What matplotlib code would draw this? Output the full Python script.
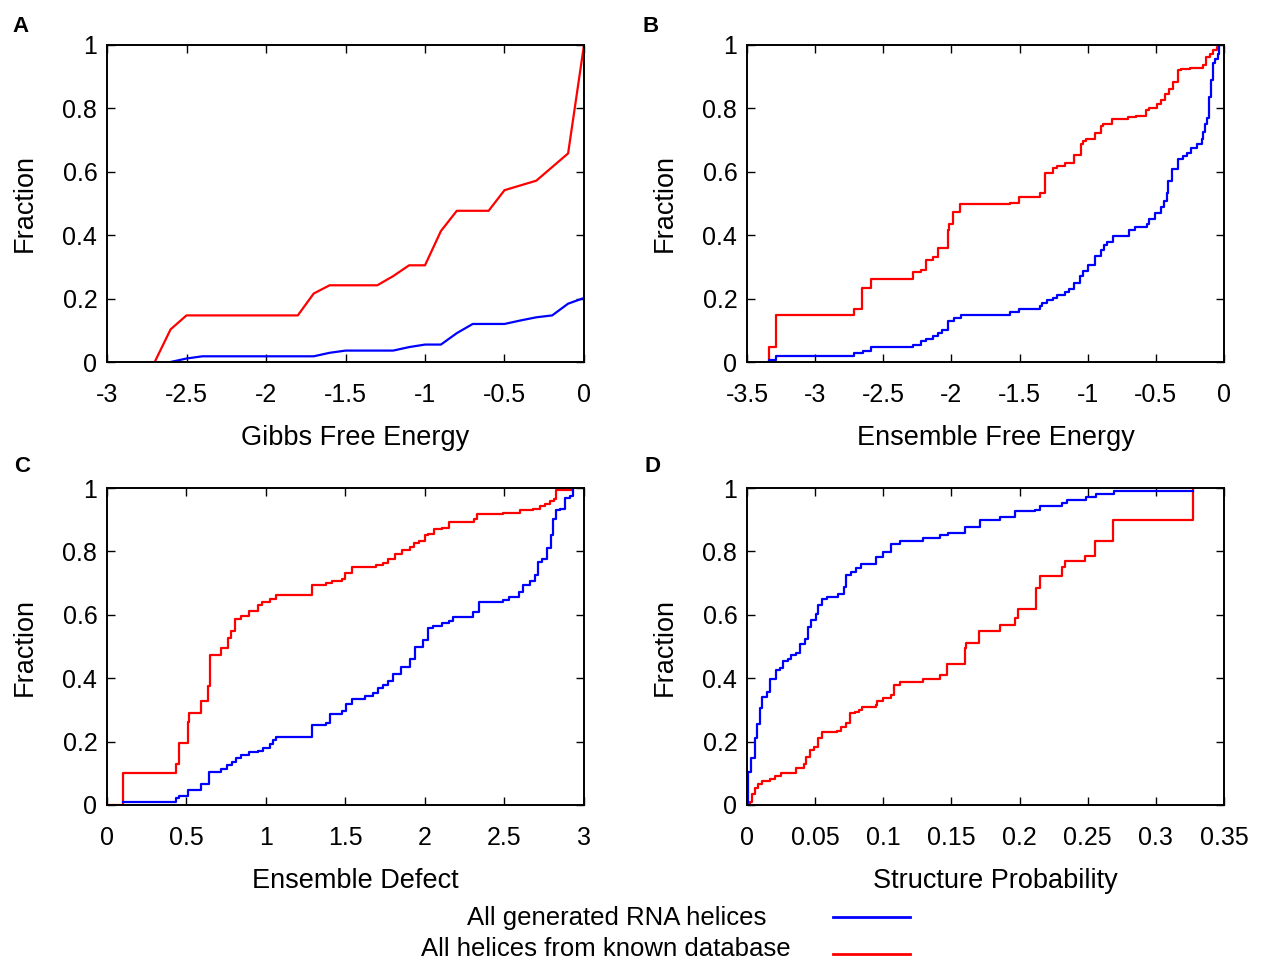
import numpy as np
import matplotlib
matplotlib.use('Agg')
import matplotlib.pyplot as plt

plt.rcParams['font.family'] = ['Liberation Sans', 'DejaVu Sans']

# ---- data ----
# A: Gibbs free energy (plain lines)
gibbs_red_x = [-2.7, -2.6, -2.5, -1.8, -1.7, -1.6, -1.3, -1.2, -1.1, -1.0,
               -0.9, -0.8, -0.6, -0.5, -0.3, -0.1, 0.0]
gibbs_red_y = [0, 0.103, 0.147, 0.147, 0.216, 0.242, 0.242, 0.271, 0.305, 0.305,
               0.413, 0.477, 0.477, 0.542, 0.572, 0.658, 1.0]
gibbs_blue_x = [-2.6, -2.5, -2.4, -1.7, -1.6, -1.5, -1.2, -1.1, -1.0, -0.9,
                -0.8, -0.7, -0.5, -0.4, -0.3, -0.2, -0.1, 0.0]
gibbs_blue_y = [0, 0.011, 0.018, 0.018, 0.029, 0.036, 0.036, 0.047, 0.055, 0.055,
                0.091, 0.12, 0.12, 0.131, 0.141, 0.147, 0.184, 0.202]

# B: ensemble free energy (steps)
efe_red_x = [-3.338, -3.338, -3.29, -2.712, -2.653, -2.59, -2.284, -2.22, -2.19, -2.134,
             -2.098, -2.027, -2.02, -1.987, -1.934, -1.571, -1.503, -1.351, -1.312, -1.258,
             -1.224, -1.163, -1.099, -1.05, -1.035, -1.009, -0.947, -0.906, -0.89, -0.82,
             -0.703, -0.649, -0.573, -0.548, -0.495, -0.465, -0.431, -0.407, -0.377, -0.34,
             -0.313, -0.25, -0.152, -0.132, -0.103, -0.079, -0.054, -0.034]
efe_red_y = [0, 0.047, 0.147, 0.168, 0.233, 0.262, 0.283, 0.291, 0.323, 0.331,
             0.361, 0.417, 0.436, 0.473, 0.498, 0.503, 0.520, 0.532, 0.597, 0.613,
             0.617, 0.627, 0.653, 0.689, 0.696, 0.705, 0.723, 0.745, 0.750, 0.768,
             0.772, 0.777, 0.794, 0.801, 0.815, 0.825, 0.844, 0.862, 0.884, 0.920,
             0.923, 0.928, 0.937, 0.962, 0.973, 0.984, 0.994, 1.0]
efe_blue_x = [-3.338, -3.338, -3.29, -2.712, -2.648, -2.59, -2.284, -2.22, -2.184, -2.134,
              -2.095, -2.07, -2.024, -1.978, -1.929, -1.571, -1.503, -1.351, -1.332, -1.302,
              -1.253, -1.229, -1.168, -1.136, -1.099, -1.053, -1.033, -1.0, -0.947, -0.903,
              -0.879, -0.862, -0.818, -0.695, -0.654, -0.568, -0.548, -0.507, -0.465, -0.44,
              -0.421, -0.411, -0.382, -0.338, -0.299, -0.274, -0.245, -0.196, -0.164, -0.152,
              -0.142, -0.127, -0.108, -0.098, -0.084, -0.067, -0.047, -0.034]
efe_blue_y = [0, 0.007, 0.018, 0.028, 0.036, 0.047, 0.055, 0.065, 0.074, 0.083,
              0.093, 0.102, 0.128, 0.139, 0.147, 0.157, 0.166, 0.178, 0.186, 0.195,
              0.203, 0.212, 0.222, 0.231, 0.249, 0.270, 0.287, 0.305, 0.333, 0.352,
              0.370, 0.378, 0.396, 0.415, 0.426, 0.436, 0.452, 0.470, 0.489, 0.508,
              0.532, 0.571, 0.610, 0.639, 0.649, 0.659, 0.676, 0.689, 0.705, 0.726,
              0.750, 0.771, 0.836, 0.889, 0.942, 0.957, 0.973, 1.0]

# C: ensemble defect (steps)
ed_red_x = [0, 0.10, 0.436, 0.451, 0.51, 0.516, 0.589, 0.636, 0.646, 0.72,
            0.761, 0.782, 0.808, 0.841, 0.892, 0.952, 0.975, 1.028, 1.066, 1.288,
            1.38, 1.412, 1.475, 1.5, 1.538, 1.691, 1.737, 1.768, 1.81, 1.853,
            1.905, 1.932, 1.963, 1.999, 2.02, 2.058, 2.104, 2.15, 2.308, 2.326,
            2.492, 2.597, 2.681, 2.723, 2.754, 2.786, 2.811, 2.824, 2.933]
ed_red_y = [0, 0.102, 0.128, 0.197, 0.263, 0.29, 0.328, 0.376, 0.473, 0.496,
            0.528, 0.55, 0.586, 0.597, 0.611, 0.63, 0.64, 0.649, 0.664, 0.693,
            0.699, 0.707, 0.714, 0.733, 0.75, 0.756, 0.764, 0.777, 0.791, 0.804,
            0.815, 0.827, 0.832, 0.851, 0.856, 0.872, 0.875, 0.893, 0.903, 0.919,
            0.922, 0.93, 0.935, 0.942, 0.951, 0.958, 0.966, 0.994, 1.0]
ed_blue_x = [0.1, 0.436, 0.453, 0.51, 0.589, 0.642, 0.72, 0.757, 0.789, 0.814,
             0.845, 0.892, 0.95, 0.978, 1.024, 1.045, 1.066, 1.288, 1.38, 1.405,
             1.475, 1.506, 1.538, 1.622, 1.674, 1.706, 1.737, 1.768, 1.8, 1.852,
             1.905, 1.936, 1.989, 2.02, 2.052, 2.104, 2.15, 2.178, 2.299, 2.341,
             2.488, 2.526, 2.593, 2.618, 2.66, 2.691, 2.708, 2.733, 2.765, 2.79,
             2.807, 2.824, 2.849, 2.88, 2.912, 2.933]
ed_blue_y = [0.0105, 0.021, 0.029, 0.047, 0.066, 0.105, 0.112, 0.126, 0.137, 0.147,
             0.158, 0.166, 0.17, 0.179, 0.192, 0.205, 0.214, 0.252, 0.259, 0.288,
             0.298, 0.319, 0.333, 0.345, 0.352, 0.368, 0.38, 0.392, 0.412, 0.435,
             0.462, 0.499, 0.52, 0.557, 0.565, 0.575, 0.581, 0.593, 0.609, 0.639,
             0.648, 0.657, 0.672, 0.693, 0.706, 0.727, 0.765, 0.777, 0.811, 0.851,
             0.903, 0.93, 0.935, 0.97, 0.975, 1.0]

# D: structure probability (steps)
sp_blue_x = [0, 0.0007, 0.003, 0.0056, 0.0073, 0.0093, 0.011, 0.0147, 0.0171, 0.021,
             0.024, 0.0264, 0.030, 0.0326, 0.0362, 0.0387, 0.0423, 0.0448, 0.0472, 0.0509,
             0.052, 0.0553, 0.0587, 0.0668, 0.071, 0.073, 0.0766, 0.0798, 0.084, 0.0945,
             0.0999, 0.106, 0.112, 0.129, 0.1415, 0.1476, 0.16, 0.171, 0.1855, 0.197,
             0.211, 0.2149, 0.2308, 0.2345, 0.249, 0.256, 0.2692, 0.327]
sp_blue_y = [0, 0.105, 0.147, 0.21, 0.257, 0.305, 0.341, 0.357, 0.397, 0.425,
             0.431, 0.455, 0.46, 0.473, 0.478, 0.509, 0.525, 0.562, 0.583, 0.604,
             0.63, 0.649, 0.657, 0.667, 0.688, 0.727, 0.735, 0.748, 0.759, 0.783,
             0.797, 0.822, 0.834, 0.842, 0.851, 0.859, 0.877, 0.898, 0.908, 0.927,
             0.932, 0.943, 0.954, 0.963, 0.971, 0.981, 0.991, 0.991]
sp_red_x = [0, 0.002, 0.0039, 0.0056, 0.008, 0.0113, 0.0166, 0.0203, 0.0252, 0.036,
            0.0418, 0.0436, 0.046, 0.049, 0.052, 0.0553, 0.066, 0.0693, 0.0724, 0.0754,
            0.079, 0.0822, 0.0847, 0.095, 0.0955, 0.0999, 0.106, 0.1077, 0.1126, 0.129,
            0.1415, 0.147, 0.16, 0.161, 0.1703, 0.186, 0.197, 0.199, 0.212, 0.215,
            0.2308, 0.233, 0.248, 0.2553, 0.2687, 0.327]
sp_red_y = [0, 0.0105, 0.034, 0.053, 0.065, 0.077, 0.082, 0.092, 0.102, 0.116,
            0.128, 0.152, 0.173, 0.184, 0.21, 0.231, 0.233, 0.245, 0.26, 0.289,
            0.294, 0.299, 0.308, 0.315, 0.328, 0.338, 0.347, 0.38, 0.389, 0.397,
            0.41, 0.446, 0.494, 0.51, 0.548, 0.569, 0.59, 0.618, 0.683, 0.723,
            0.751, 0.771, 0.785, 0.834, 0.899, 1.0]

panel_letters = ['A', 'B', 'C', 'D']
xlabels = ['Gibbs Free Energy', 'Ensemble Free Energy', 'Ensemble Defect', 'Structure Probability']
xticks = [np.arange(-3, 0.01, 0.5), np.arange(-3.5, 0.01, 0.5),
          np.arange(0, 3.01, 0.5), np.arange(0, 0.351, 0.05)]
xlims = [(-3, 0), (-3.5, 0), (0, 3), (0, 0.35)]
legend_labels = ['All generated RNA helices', 'All helices from known database']

# ---- layout in pixels ----
W, H = 1263, 964
fig = plt.figure(figsize=(W/100, H/100), dpi=100)

boxes = [(107, 45), (747, 45), (107, 488), (747, 488)]  # left, top
letter_pos = [(12, 32), (643, 32), (14, 472), (645, 472)]
aw, ah = 477, 317
series = [
    (gibbs_blue_x, gibbs_blue_y, gibbs_red_x, gibbs_red_y, None),
    (efe_blue_x, efe_blue_y, efe_red_x, efe_red_y, 'steps-post'),
    (ed_blue_x, ed_blue_y, ed_red_x, ed_red_y, 'steps-post'),
    (sp_blue_x, sp_blue_y, sp_red_x, sp_red_y, 'steps-post'),
]

def fmt(v):
    s = f'{v:.2f}'.rstrip('0').rstrip('.')
    if s == '-0':
        s = '0'
    return s

for i, (l, t) in enumerate(boxes):
    ax = fig.add_axes([l/W, 1-(t+ah)/H, aw/W, ah/H])
    bx, by, rx, ry, ds = series[i]
    kw = dict(lw=1.6, clip_on=True)
    if ds:
        kw['drawstyle'] = ds
    ax.plot(rx, ry, color='#ff0000', **kw)
    ax.plot(bx, by, color='#0000ff', **kw)
    ax.set_xlim(*xlims[i])
    ax.set_ylim(0, 1)
    ax.set_xticks(xticks[i])
    ax.set_xticklabels([fmt(v) for v in xticks[i]])
    yt = np.arange(0, 1.01, 0.2)
    ax.set_yticks(yt)
    ax.set_yticklabels([fmt(v) for v in yt])
    ax.tick_params(direction='in', top=True, right=True, length=6, width=1,
                   labelsize=18)
    ax.tick_params(axis='x', pad=15)
    ax.tick_params(axis='y', pad=7)
    for sp in ax.spines.values():
        sp.set_linewidth(1.4)
    # labels
    fig.text((l + aw/2 + 10)/W, 1-(t+400)/H, xlabels[i], ha='center', va='baseline',
             fontsize=19.5)
    fig.text((l - 82)/W, 1-(t + ah/2)/H, 'Fraction', rotation=90,
             ha='center', va='center', fontsize=19.5)
    lx, ly = letter_pos[i]
    fig.text(lx/W, 1-ly/H, panel_letters[i], ha='left', va='baseline',
             fontsize=16, fontweight='bold')

# legend drawn by hand like gnuplot's key
leg_text_x = [467, 421]
leg_text_base = [925, 956]
leg_y = [917, 954]
leg_colors = ['#0000ff', '#ff0000']
for lab, tx, tb, ly, c in zip(legend_labels, leg_text_x, leg_text_base, leg_y, leg_colors):
    fig.text(tx/W, 1-tb/H, lab, ha='left', va='baseline', fontsize=18.5)
    fig.add_artist(plt.Line2D([833/W, 910/W], [1-ly/H, 1-ly/H], color=c, lw=2))

fig.savefig('out.png', dpi=100)
